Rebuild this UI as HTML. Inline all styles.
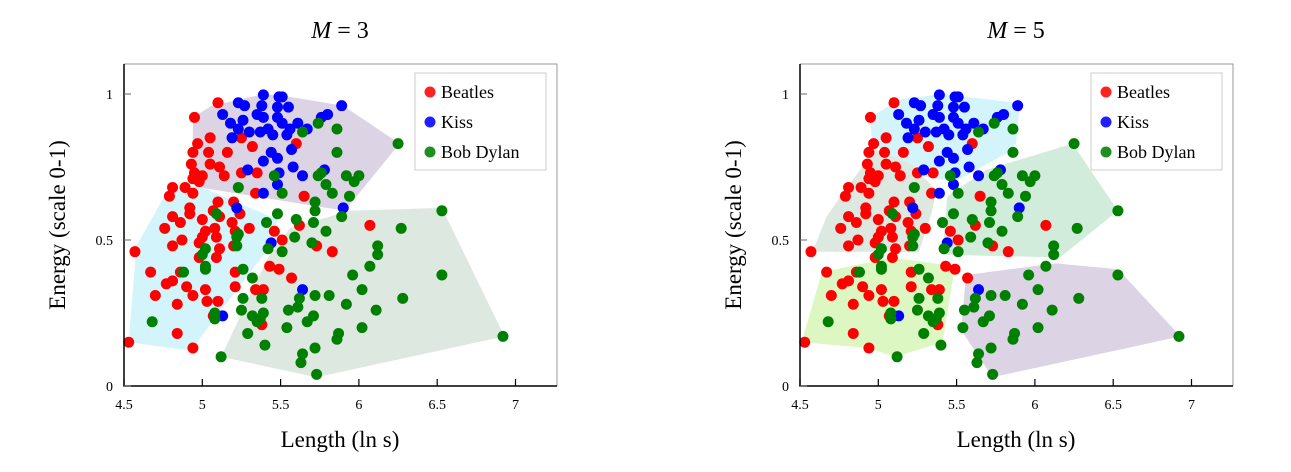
<!DOCTYPE html>
<html><head><meta charset="utf-8"><style>
body{margin:0;background:#fff;width:1291px;height:467px;overflow:hidden}
svg text{font-family:"Liberation Serif",serif}
</style></head><body>
<svg id="chart" width="1291" height="467" xmlns="http://www.w3.org/2000/svg"></svg>
<script>
const seriesNames=["Beatles","Kiss","Bob Dylan"];
const beatlesX=[5.10,4.95,5.05,4.97,4.94,5.04,5.16,5.25,5.32,5.60,4.93,5.05,5.11,5.14,4.95,5.00,4.94,4.98,5.25,5.35,4.81,4.79,4.89,4.94,5.34,5.65,5.10,5.20,4.92,4.92,4.81,4.86,5.00,5.07,5.11,5.19,5.24,5.30,4.76,5.02,5.08,5.21,5.46,5.51,5.62,4.87,4.81,4.57,5.00,5.09,4.98,5.11,5.20,5.73,5.83,5.09,4.98,4.67,4.77,4.81,4.86,4.90,5.21,5.43,5.49,5.57,4.70,4.94,5.02,5.21,5.34,5.39,5.03,5.10,4.84,5.07,5.38,4.84,4.53,4.94,6.07];
const beatlesY=[0.97,0.92,0.85,0.83,0.80,0.80,0.80,0.85,0.82,0.83,0.76,0.76,0.75,0.72,0.73,0.72,0.71,0.70,0.73,0.73,0.68,0.65,0.68,0.66,0.66,0.65,0.63,0.63,0.61,0.59,0.58,0.56,0.57,0.60,0.58,0.56,0.59,0.54,0.54,0.53,0.54,0.53,0.53,0.50,0.55,0.50,0.48,0.46,0.51,0.51,0.49,0.47,0.48,0.48,0.46,0.44,0.44,0.39,0.35,0.36,0.39,0.34,0.39,0.41,0.40,0.37,0.31,0.31,0.33,0.34,0.33,0.33,0.29,0.29,0.28,0.24,0.21,0.18,0.15,0.13,0.55];
const kissX=[5.39,5.49,5.51,5.23,5.27,5.38,5.48,5.55,5.89,5.80,5.76,5.13,5.18,5.26,5.35,5.39,5.48,5.51,5.61,5.56,5.23,5.30,5.37,5.42,5.45,5.54,5.19,5.67,5.57,5.44,5.48,5.39,5.58,5.29,5.49,5.64,5.78,5.48,5.39,5.22,5.90,5.44,5.64,5.13];
const kissY=[0.997,0.99,0.99,0.97,0.96,0.96,0.955,0.955,0.96,0.93,0.92,0.93,0.90,0.91,0.93,0.92,0.92,0.90,0.90,0.88,0.88,0.87,0.87,0.88,0.86,0.86,0.85,0.88,0.81,0.80,0.78,0.77,0.75,0.74,0.73,0.72,0.74,0.69,0.66,0.61,0.61,0.49,0.33,0.24];
const dylanX=[5.74,5.64,5.86,5.86,5.46,5.76,5.74,5.79,5.83,5.92,5.23,5.51,5.72,5.72,5.41,5.48,5.60,5.71,5.79,5.89,5.22,5.09,5.94,6.25,6.00,5.97,6.53,6.27,6.12,6.12,6.07,5.96,6.53,6.02,5.81,5.92,6.28,6.11,5.87,5.86,6.02,6.92,5.23,5.22,5.02,5.00,5.42,5.51,5.59,5.70,5.02,5.02,4.88,5.26,5.32,5.26,5.25,5.38,5.32,5.37,5.39,5.35,5.08,5.08,4.68,5.29,5.40,5.54,5.62,5.55,5.61,5.72,5.71,5.67,5.64,5.63,5.72,5.73,5.12];
const dylanY=[0.90,0.87,0.88,0.80,0.72,0.73,0.72,0.69,0.66,0.72,0.68,0.66,0.63,0.60,0.56,0.59,0.57,0.56,0.53,0.58,0.51,0.59,0.65,0.83,0.72,0.70,0.60,0.54,0.48,0.45,0.41,0.38,0.38,0.33,0.31,0.28,0.30,0.26,0.18,0.16,0.20,0.17,0.52,0.48,0.47,0.45,0.47,0.46,0.51,0.49,0.41,0.40,0.39,0.40,0.37,0.30,0.26,0.30,0.24,0.23,0.25,0.22,0.25,0.23,0.22,0.18,0.14,0.20,0.30,0.26,0.27,0.31,0.24,0.22,0.11,0.08,0.13,0.04,0.10];
const xTicks=[4.5,5,5.5,6,6.5,7];
const xTickLabels=["4.5","5","5.5","6","6.5","7"];
const yTicks=[0,0.5,1];
const yTickLabels=["0","0.5","1"];
const m3Clusters=[
 {name:"cluster-kiss-region",fill:"#dcd3e5",xs:[4.94,5.06,5.40,5.56,5.90,6.26,5.91,4.98,4.94],ys:[0.92,0.96,1.00,0.99,0.96,0.83,0.60,0.68,0.71]},
 {name:"cluster-beatles-region",fill:"#d3f4fa",xs:[4.53,4.58,4.79,5.00,5.48,5.42,4.98,4.94],ys:[0.15,0.48,0.68,0.68,0.57,0.47,0.16,0.12]},
 {name:"cluster-dylan-region",fill:"#dde8e1",xs:[5.12,5.42,5.56,5.94,6.53,6.93,5.73],ys:[0.10,0.44,0.54,0.60,0.61,0.17,0.03]}];
const m5Clusters=[
 {name:"cluster-kiss-region",fill:"#d3f4fa",xs:[4.95,5.13,5.41,5.88,5.90,5.88,5.83,5.49,5.27,4.96],ys:[0.92,0.98,1.00,0.97,0.95,0.83,0.80,0.70,0.72,0.83]},
 {name:"cluster-beatles-high-region",fill:"#dde8e1",xs:[4.58,4.67,4.80,4.98,5.21,5.37,5.34,5.26],ys:[0.46,0.58,0.68,0.81,0.76,0.67,0.59,0.46]},
 {name:"cluster-dylan-high-region",fill:"#d2ecdc",xs:[5.41,5.44,5.69,6.24,6.53,6.16],ys:[0.45,0.65,0.74,0.83,0.60,0.44]},
 {name:"cluster-low-mixed-region",fill:"#ddf7c2",xs:[4.51,4.64,5.09,5.49,5.41,5.11,4.93],ys:[0.15,0.39,0.44,0.41,0.15,0.10,0.13]},
 {name:"cluster-dylan-low-region",fill:"#dcd3e5",xs:[5.56,6.13,6.53,6.93,5.73,5.53],ys:[0.38,0.42,0.40,0.17,0.03,0.19]}];

const NS="http://www.w3.org/2000/svg";
const svg=document.getElementById("chart");
function mk(tag,attrs,parent){const e=document.createElementNS(NS,tag);for(const k in attrs)e.setAttribute(k,attrs[k]);(parent||svg).appendChild(e);return e;}

function drawPanel(ox,title,clusters,panelName){
  const g=mk("g",{});
  
  
  const L=ox, R=ox+433, T=64, B=386;
  const sx=v=>L+(v-4.5)*156.6;
  const sy=v=>386-v*292;
  clusters.forEach(c=>{
    const pts=c.xs.map((x,i)=>sx(x).toFixed(1)+","+sy(c.ys[i]).toFixed(1)).join(" ");
    const p=mk("polygon",{points:pts,fill:c.fill},g);
    
    
  });
  const series=[[beatlesX,beatlesY,"#ff0000","beatles-point"],[kissX,kissY,"#0000ff","kiss-point"],[dylanX,dylanY,"#008000","dylan-point"]];
  series.forEach(s=>{
    s[0].forEach((x,i)=>{
      const c=mk("circle",{cx:sx(x),cy:sy(s[1][i]),r:5.5,fill:s[2]},g);
      
      
    });
  });
  // frame
  const fr=mk("path",{d:`M${L},${T}H${R}V${B}`,stroke:"#999",fill:"none","stroke-width":1},g);
  
  
  const ax=mk("path",{d:`M${L},${T}V${B}H${R}`,stroke:"#000",fill:"none","stroke-width":1.5},g);
  
  
  xTicks.forEach((v,i)=>{
    const x=sx(v);
    const t=mk("line",{x1:x,x2:x,y1:B,y2:B-7,stroke:"#000","stroke-width":1.2},g);
    
    
    const lb=mk("text",{x:x,y:B+23,"text-anchor":"middle","font-size":14},g);
    lb.textContent=xTickLabels[i];
    
    
  });
  yTicks.forEach((v,i)=>{
    const y=sy(v);
    const t=mk("line",{x1:L,x2:L+7,y1:y,y2:y,stroke:"#666","stroke-width":1},g);
    
    
    const lb=mk("text",{x:L-11,y:y+5,"text-anchor":"end","font-size":14},g);
    lb.textContent=yTickLabels[i];
    
    
  });
  const tt=mk("text",{x:L+216,y:38,"text-anchor":"middle","font-size":24},g);
  tt.innerHTML='<tspan font-style="italic">M</tspan> = '+title;
  
  
  const xl=mk("text",{x:L+216,y:447,"text-anchor":"middle","font-size":23},g);
  xl.textContent="Length (ln s)";
  
  
  const yl=mk("text",{x:0,y:0,"text-anchor":"middle","font-size":23,transform:`translate(${L-59},${225}) rotate(-90)`},g);
  yl.textContent="Energy (scale 0-1)";
  
  
  // legend
  const lg=mk("g",{},g);
  
  
  const lx=L+291;
  mk("rect",{x:lx,y:73,width:131,height:97,fill:"#fff",stroke:"#ccc"},lg);
  const cols=["#ff2020","#2020ff","#208f20"];
  seriesNames.forEach((n,i)=>{
    const y=92+i*30;
    const c=mk("circle",{cx:lx+15,cy:y,r:5.5,fill:cols[i]},lg);
    
    
    const t=mk("text",{x:lx+26,y:y+6,"font-size":18},lg);
    t.textContent=n;
    
    
  });
}
drawPanel(124,"3",m3Clusters,"panel-m3");
drawPanel(800,"5",m5Clusters,"panel-m5");
</script>
</body></html>
